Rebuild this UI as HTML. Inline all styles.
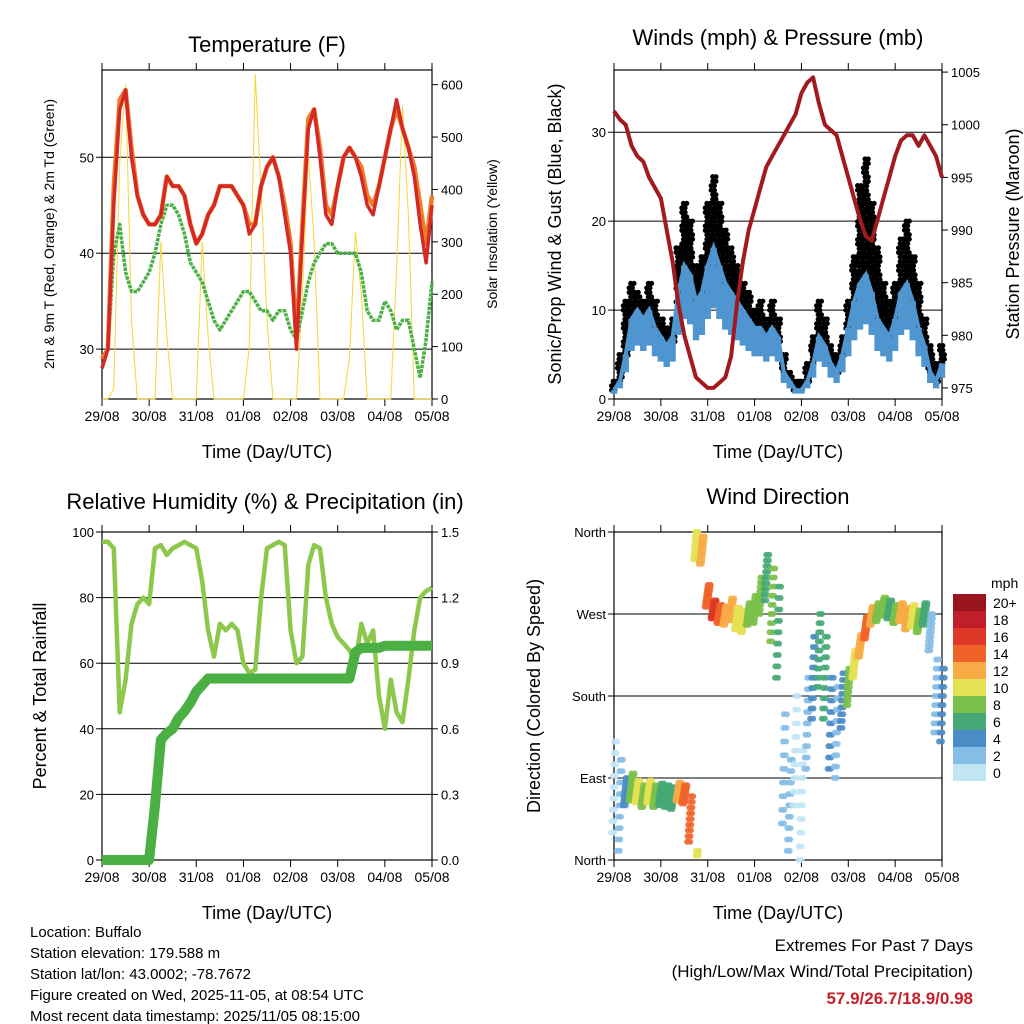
<!DOCTYPE html>
<html><head><meta charset="utf-8"><style>
body{margin:0;background:#fff;}
svg{display:block;font-family:"Liberation Sans",sans-serif;}
</style></head><body>
<svg id="c" width="1024" height="1024" viewBox="0 0 1024 1024">
<g id="layer"></g>
<g font-size="22" text-anchor="middle">
<text x="267" y="52">Temperature (F)</text>
<text x="778" y="45">Winds (mph) &amp; Pressure (mb)</text>
<text x="265" y="509">Relative Humidity (%) &amp; Precipitation (in)</text>
<text x="778" y="504">Wind Direction</text>
</g>
<g font-size="18" text-anchor="middle">
<text x="267" y="458">Time (Day/UTC)</text>
<text x="778" y="458">Time (Day/UTC)</text>
<text x="267" y="919">Time (Day/UTC)</text>
<text x="778" y="919">Time (Day/UTC)</text>
<text transform="translate(54,234) rotate(-90)" font-size="14">2m &amp; 9m T (Red, Orange) &amp; 2m Td (Green)</text>
<text transform="translate(497,234) rotate(-90)" font-size="14">Solar Insolation (Yellow)</text>
<text transform="translate(561,234) rotate(-90)">Sonic/Prop Wind &amp; Gust (Blue, Black)</text>
<text transform="translate(1019,234) rotate(-90)">Station Pressure (Maroon)</text>
<text transform="translate(46,696) rotate(-90)">Percent &amp; Total Rainfall</text>
<text transform="translate(540,696) rotate(-90)">Direction (Colored By Speed)</text>
</g>
<g font-size="15">
<text x="30" y="937">Location: Buffalo</text>
<text x="30" y="958">Station elevation: 179.588 m</text>
<text x="30" y="979">Station lat/lon: 43.0002; -78.7672</text>
<text x="30" y="1000">Figure created on Wed, 2025-11-05, at 08:54 UTC</text>
<text x="30" y="1021">Most recent data timestamp: 2025/11/05 08:15:00</text>
</g>
<g font-size="17" text-anchor="end">
<text x="973" y="951">Extremes For Past 7 Days</text>
<text x="973" y="977">(High/Low/Max Wind/Total Precipitation)</text>
<text x="973" y="1004" fill="#c8202a" font-weight="bold">57.9/26.7/18.9/0.98</text>
</g>
</svg>
<script>
// time in hours, 3-hour steps
const hours=[];for(let h=0;h<=168;h+=3)hours.push(h);
const dayLabels=["29/08","30/08","31/08","01/08","02/08","03/08","04/08","05/08"];
const tempT=[28,30,45,55,57,50,46,44,43,43,44,48,47,47,46,43,41,42,44,45,47,47,47,46,45,42,43,47,49,50,48,44,40,30,42,53,55,50,44,43,47,50,51,50,48,45,44,47,50,53,56,53,51,48,43,39,45];
const temp9m=[29,30,47,56,57,51,46,44,43,43,44,48,47,47,46,43,41,42,44,45,47,47,47,46,45,43,43,47,49,50,48,45,41,31,43,54,55,51,45,44,47,50,51,50,49,46,45,47,50,53,55,53,51,49,45,41,46];
const dewTd=[28,30,40,43,38,36,36,37,38,40,43,45,45,44,42,39,38,37,35,33,32,33,34,35,36,36,35,34,34,33,34,34,32,31,34,37,39,40,41,41,40,40,40,40,38,34,33,33,35,34,32,33,33,30,27,31,37];
const solar=[0,0,20,450,600,150,0,0,0,0,300,120,0,0,0,0,0,300,120,0,0,0,0,0,0,100,620,400,150,0,0,0,0,0,200,470,300,0,0,0,0,0,80,320,200,0,0,0,0,0,250,560,350,0,0,0,0];
const windMean=[1,2,5,9,10,9,10,8,7,6,7,12,15,14,11,12,15,17,15,13,12,11,10,9,8,8,7,8,7,3,2,1,1,2,4,7,6,4,3,5,8,11,13,14,12,9,8,7,9,12,13,11,8,6,3,2,4];
const windGust=[2,5,11,13,12,11,13,11,9,8,9,17,22,20,15,16,22,25,22,19,17,15,13,12,10,11,9,11,9,5,3,2,2,4,7,11,9,6,5,7,11,16,24,27,22,17,13,11,13,18,20,16,13,9,6,4,6];
const pressure=[1001.3,1000.5,1000,998,997,996.5,995,994,993,990,987,983,980,978,976,975.5,975,975,975.5,976,978,983,987,990,992,994,996,997,998,999,1000,1001,1003,1004,1004.5,1002,1000,999.5,999,997,995,993,991,989.4,989,991,993,995,997,998.5,999,999,998,999,998,997,995];
const rh=[97,97,95,45,55,72,78,80,78,95,96,93,95,96,97,96,95,85,70,62,72,70,72,70,60,57,58,80,95,96,97,96,70,60,62,90,96,95,80,72,68,66,64,60,72,66,70,50,40,55,45,42,55,70,80,82,83];
const precip=[0,0,0,0,0,0,0,0,0,0.25,0.55,0.58,0.6,0.65,0.68,0.72,0.77,0.8,0.83,0.83,0.83,0.83,0.83,0.83,0.83,0.83,0.83,0.83,0.83,0.83,0.83,0.83,0.83,0.83,0.83,0.83,0.83,0.83,0.83,0.83,0.83,0.83,0.83,0.95,0.97,0.97,0.97,0.97,0.98,0.98,0.98,0.98,0.98,0.98,0.98,0.98,0.98];
const windDir=[80,60,75,80,75,70,75,70,72,70,68,75,72,45,350,340,290,275,270,268,275,265,262,270,275,290,310,280,250,100,60,120,60,150,200,230,200,150,140,175,190,215,235,255,268,272,278,275,270,272,265,268,262,270,250,180,170];
const dirSpread=[50,50,15,15,12,12,12,12,12,12,12,10,10,25,20,15,12,10,10,10,12,12,12,12,15,20,25,40,50,60,50,60,60,50,45,40,45,50,50,30,20,15,12,12,10,10,10,10,10,10,12,12,12,12,20,40,40];
const speedBins=[0,2,4,6,8,10,12,14,16,18,20];
const speedColors=["#c2e5f6","#86bde6","#4a8cc6","#45a876","#7bc04a","#e4e152","#f6ab45","#ef6329","#de3728","#c01f2a","#98151d"];
const binLabels=["0","2","4","6","8","10","12","14","16","18","20+"];

const NS="http://www.w3.org/2000/svg";
const layer=document.getElementById('layer');
function mk(tag,attrs,parent){const e=document.createElementNS(NS,tag);for(const k in attrs)e.setAttribute(k,attrs[k]);(parent||layer).appendChild(e);return e;}
function xs(p){return h=>p.x0+(h/168)*(p.x1-p.x0);}
function ys(p,lo,hi){return v=>p.y1-(v-lo)/(hi-lo)*(p.y1-p.y0);}
function pathOf(xf,yf,vals){return vals.map((v,i)=>(i?'L':'M')+xf(hours[i]).toFixed(1)+','+yf(v).toFixed(1)).join('');}

function frame(p,name,leftTicks,lyf,rightTicks,ryf,grid,labelFn,rightFmt){
  const g=mk('g',{});
  
  
  const xf=xs(p);
  if(grid) leftTicks.forEach(t=>{const y=lyf(t);if(y>p.y0+1&&y<p.y1-1){const l=mk('line',{x1:p.x0,x2:p.x1,y1:y,y2:y,stroke:'#000','stroke-width':1},g);}});
  mk('rect',{x:p.x0,y:p.y0,width:p.x1-p.x0,height:p.y1-p.y0,fill:'none',stroke:'#000','stroke-width':1.2},g);
  dayLabels.forEach((d,i)=>{const x=xf(i*24);
    mk('line',{x1:x,x2:x,y1:p.y1,y2:p.y1+7,stroke:'#000'},g);
    mk('line',{x1:x,x2:x,y1:p.y0,y2:p.y0-7,stroke:'#000'},g);
    const t=mk('text',{x:x,y:p.y1+22,'font-size':14,'text-anchor':'middle'},g);t.textContent=d;
    });
  leftTicks.forEach(v=>{const y=lyf(v);mk('line',{x1:p.x0-6,x2:p.x0,y1:y,y2:y,stroke:'#000'},g);
    const t=mk('text',{x:p.x0-8,y:y+5,'font-size':13,'text-anchor':'end'},g);t.textContent=labelFn?labelFn(v):v;
    });
  if(rightTicks) rightTicks.forEach(v=>{const y=ryf(v);mk('line',{x1:p.x1,x2:p.x1+6,y1:y,y2:y,stroke:'#000'},g);
    const t=mk('text',{x:p.x1+9,y:y+5,'font-size':13},g);t.textContent=rightFmt?rightFmt(v):v;
    });
}

// Panel 1 Temperature
const P1={x0:102,x1:432,y0:70,y1:399};
const x1f=xs(P1), t1=ys(P1,24.8,59.1), s1=ys(P1,0,628);
frame(P1,'temperature',[30,40,50],t1,[0,100,200,300,400,500,600],s1,true);
let e=mk('path',{d:pathOf(x1f,s1,solar),fill:'none',stroke:'#f5d738','stroke-width':1});


e=mk('path',{d:pathOf(x1f,t1,dewTd),fill:'none',stroke:'#4ab043','stroke-width':3.5,'stroke-dasharray':'3.5 1','stroke-linejoin':'round'});


e=mk('path',{d:pathOf(x1f,t1,temp9m),fill:'none',stroke:'#f07c2a','stroke-width':4.5,'stroke-linejoin':'round'});


e=mk('path',{d:pathOf(x1f,t1,tempT),fill:'none',stroke:'#d42a26','stroke-width':3.5,'stroke-linejoin':'round'});



// Panel 2 Winds
const P2={x0:614,x1:942,y0:70,y1:399};
const x2f=xs(P2), w2=ys(P2,0,37), p2=ys(P2,973.95,1005.2);
frame(P2,'winds',[0,10,20,30],w2,[975,980,985,990,995,1000,1005],p2,true);
windGust.forEach((v,i)=>{const x=x2f(hours[i]);
  const top=w2(v), bot=w2(windMean[i]*0.9);
  for(let y=top;y<=bot;y+=4.5){[-1.6,1.6].forEach(dx=>{
    const d=mk('circle',{cx:x+dx+((Math.round(y)%2)?0.8:-0.8),cy:y,r:2.6,fill:'#000'});
    
    });}});
windMean.forEach((v,i)=>{const x=x2f(hours[i]);
  const b=mk('rect',{x:x-3.2,y:w2(v),width:6.4,height:w2(v*0.6)-w2(v),fill:'#4f96d0'});
  
  });
e=mk('path',{d:pathOf(x2f,w2,windMean),fill:'none',stroke:'#4f96d0','stroke-width':4});


e=mk('path',{d:pathOf(x2f,p2,pressure),fill:'none',stroke:'#a11a1f','stroke-width':4,'stroke-linejoin':'round'});



// Panel 3 RH
const P3={x0:102,x1:432,y0:532,y1:860};
const x3f=xs(P3), r3=ys(P3,0,100), q3=ys(P3,0,1.5);
frame(P3,'humidity',[0,20,40,60,80,100],r3,[0,0.3,0.6,0.9,1.2,1.5],q3,true,null,v=>v.toFixed(1));
e=mk('path',{d:pathOf(x3f,r3,rh),fill:'none',stroke:'#8cc84b','stroke-width':4.5,'stroke-linejoin':'round'});


e=mk('path',{d:pathOf(x3f,q3,precip),fill:'none',stroke:'#4bb043','stroke-width':10,'stroke-linejoin':'round'});



// Panel 4 Wind direction
const P4={x0:614,x1:942,y0:532,y1:860};
const x4f=xs(P4), d4=ys(P4,0,360);
frame(P4,'direction',[0,90,180,270,360],d4,null,null,true,v=>({0:'North',90:'East',180:'South',270:'West',360:'North'})[v]);
function colorFor(s){let k=0;for(let i=0;i<speedBins.length;i++)if(s>=speedBins[i])k=i;return speedColors[k];}
windDir.forEach((dv,i)=>{const x=x4f(hours[i]);const c=colorFor(windMean[i]);
  [-1,-0.75,-0.5,-0.25,0,0.25,0.5,0.75,1].forEach(k=>{let v=dv+k*dirSpread[i];if(v>360)v-=360;if(v<0)v+=360;
    [-1.5,1.5].forEach(dx=>{const pt=mk('circle',{cx:x+dx+k*1.5,cy:d4(v),r:3,fill:c,opacity:0.9});
      
      });});});

// Colorbar
const cb=mk('g',{});


let t=mk('text',{x:991,y:588,'font-size':14},cb);t.textContent='mph';
speedColors.forEach((c,i)=>{const y=594+(10-i)*17;
  const r=mk('rect',{x:953,y:y,width:33,height:17,fill:c},cb);
  
  
  const l=mk('text',{x:993,y:y+14,'font-size':14},cb);l.textContent=binLabels[i];
  
  });
</script>
</body></html>
